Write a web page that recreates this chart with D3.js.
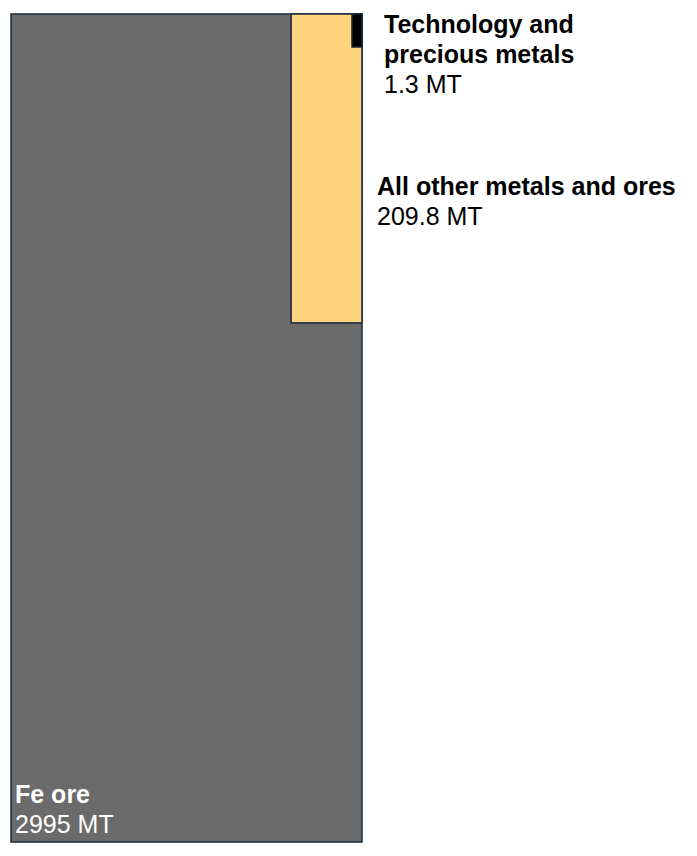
<!DOCTYPE html>
<html>
<head>
<meta charset="utf-8">
<script src="https://cdn.jsdelivr.net/npm/d3@7"></script>
<style>
  body { margin: 0; background: #ffffff; }
  text { font-family: "Liberation Sans", Arial, sans-serif; }
</style>
</head>
<body>
<svg id="drawing_region"></svg>
<script>
// data
const names = ["Fe ore", "All other metals and ores", "Technology and precious metals"];
const values = [2995, 209.8, 1.3];
const value_labels = ["2995 MT", "209.8 MT", "1.3 MT"];
const colors = ["#6b6b6b", "#fdd57f", "#000000"];

const config = {
    width: 697,
    height: 856,
    box: {left: 11, top: 14, width: 351, height: 828},
    col_frac: [1, 0.202, 0.0285],   // width of each nested box relative to the outer box
    min_h: 33
};

const svg = d3.select('#drawing_region')
    .attr('width', config.width)
    .attr('height', config.height);

const box = config.box;

// area scale: outer box holds Fe ore plus the nested boxes at the top-right corner
const area = d3.scaleLinear()
    .domain([0, values[0] - values[1] - values[2]])
    .range([0, box.width * box.height]);

const xscale = d3.scaleLinear()
    .domain([0, 1])
    .range([box.left, box.left + box.width]);

const yscale = d3.scaleLinear()
    .domain([0, box.height])
    .range([box.top, box.top + box.height]);

const rects = values.map( (v, i) => {
    const w = xscale(config.col_frac[i]) - xscale(0);
    let h = area(v) / w;
    if (i > 0) h = Math.max(h, config.min_h);
    if (i === 0) h = box.height;
    return {
        x: xscale(1) - w,
        y: yscale(0),
        w: w,
        h: yscale(h) - yscale(0),
        fill: colors[i]
    };
});

svg.selectAll("rect")
    .data(rects)
    .enter()
    .append("rect")
    .attr("x", d => d.x)
    .attr("y", d => d.y)
    .attr("width", d => d.w)
    .attr("height", d => d.h)
    .attr("fill", d => d.fill)
    .attr("stroke", "#17283a")
    .attr("stroke-width", 1.5);

// labels
const fs = 25;
const lh = 30;

function label(lines, value, x, y, color) {
    const t = svg.append("text")
        .attr("x", x)
        .attr("y", y)
        .attr("fill", color)
        .style("font-size", fs + "px");
    lines.forEach( (l, i) => {
        t.append("tspan")
            .attr("x", x)
            .attr("dy", i === 0 ? 0 : lh)
            .attr("font-weight", "bold")
            .text(l);
    });
    t.append("tspan")
        .attr("x", x)
        .attr("dy", lh)
        .text(value);
}

label(["Technology and", "precious metals"], value_labels[2], 384, 33, "#000");
label([names[1]], value_labels[1], 377, 194.5, "#000");
label([names[0]], value_labels[0], 15, 803, "#fff");
</script>
</body>
</html>
